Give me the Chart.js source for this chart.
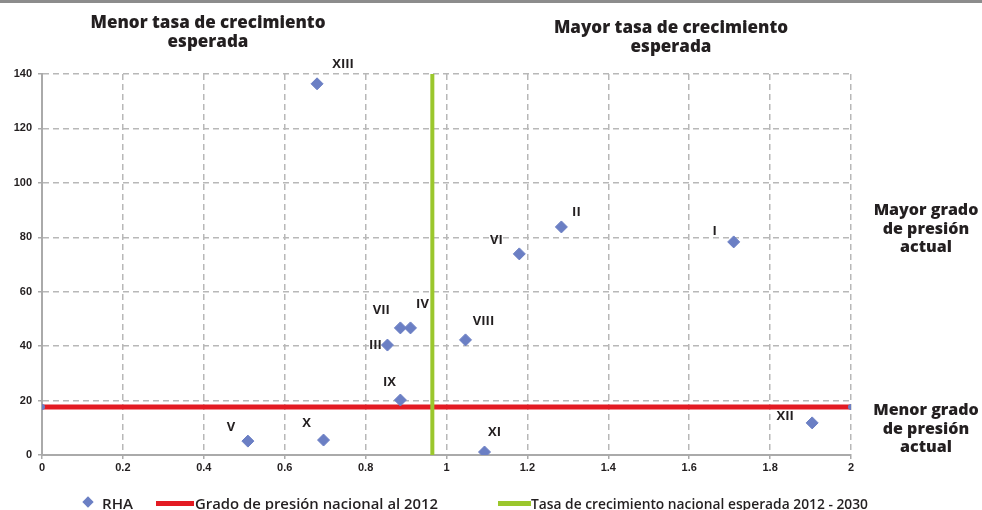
<!DOCTYPE html>
<html>
<head>
<meta charset="utf-8">
<script src="https://cdn.jsdelivr.net/npm/chart.js@4"></script>
<style>
  body{margin:0;width:982px;height:510px;position:relative;background:#fff;overflow:hidden;font-family:"Open Sans",sans-serif;color:#231f20}
  #barra{position:absolute;left:0;top:0;width:982px;height:3px;background:#8c8c8c}
  canvas{position:absolute;left:0;top:0}
  .nota{position:absolute;font-weight:800;text-align:center;white-space:nowrap}
  .sup{font-size:17px;line-height:19px;width:320px}
  .der{font-size:16px;line-height:18.5px;width:130px}
  .ley{position:absolute;top:494px;font-weight:600;font-size:15px;line-height:18px;white-space:nowrap;transform-origin:0 50%}
  .rombo{position:absolute;width:8px;height:8px;background:#6b7fc4;transform:rotate(45deg)}
  .raya{position:absolute;height:5px}
</style>
</head>
<body>
<div id="barra"></div>
<canvas id="grafico" width="982" height="510"></canvas>

<div class="nota sup" style="left:48px;top:12px">Menor tasa de crecimiento<br>esperada</div>
<div class="nota sup" style="left:511px;top:17px">Mayor tasa de crecimiento<br>esperada</div>
<div class="nota der" style="left:861px;top:200px">Mayor grado<br>de presión<br>actual</div>
<div class="nota der" style="left:861px;top:400px">Menor grado<br>de presión<br>actual</div>

<div class="rombo" style="left:84px;top:498px"></div>
<div class="ley" style="left:102px" data-ancho="31">RHA</div>
<div class="raya" style="left:156px;top:501px;width:38px;background:#e31b23"></div>
<div class="ley" style="left:195px" data-ancho="243">Grado de presión nacional al 2012</div>
<div class="raya" style="left:498px;top:501px;width:33px;background:#9bc72d"></div>
<div class="ley" style="left:531px" data-ancho="337">Tasa de crecimiento nacional esperada 2012 - 2030</div>

<script>
const regiones = ['I','II','III','IV','V','VI','VII','VIII','IX','X','XI','XII','XIII'];
const tasaCrecimiento = [1.71, 1.284, 0.854, 0.911, 0.509, 1.18, 0.886, 1.047, 0.886, 0.696, 1.094, 1.904, 0.68];
const gradoPresion = [78.3, 83.8, 40.4, 46.7, 5.1, 73.9, 46.7, 42.3, 20.2, 5.5, 1.1, 11.8, 136.4];
const presionNacional = 17.6;
const crecimientoNacional = 0.965;
const rangoX = [0, 2];
const rangoY = [0, 140];

// el texto de la leyenda es condensado: se ajusta al ancho indicado
document.querySelectorAll('.ley').forEach(el => {
  const w = el.getBoundingClientRect().width;
  el.style.transform = 'scaleX(' + (el.dataset.ancho / w) + ')';
});

// desplazamiento de cada etiqueta respecto a su rombo (px)
const desplazamientos = {
  'I':[-19,-11], 'II':[15,-15], 'III':[-12,0], 'IV':[12,-24], 'V':[-17,-14],
  'VI':[-23,-14], 'VII':[-19,-18], 'VIII':[18,-19], 'IX':[-11,-18], 'X':[-17,-17],
  'XI':[10,-20], 'XII':[-27,-7], 'XIII':[26,-20]
};

const etiquetas = {
  id: 'etiquetas',
  afterDatasetsDraw(chart){
    const ctx = chart.ctx;
    const puntos = chart.getDatasetMeta(0).data;
    ctx.save();
    ctx.font = 'bold 13px "Open Sans", sans-serif';
    ctx.fillStyle = '#231f20';
    ctx.textAlign = 'center';
    ctx.textBaseline = 'middle';
    puntos.forEach((p, i) => {
      const d = desplazamientos[regiones[i]] || [0, -15];
      ctx.fillText(regiones[i], p.x + d[0], p.y + d[1]);
    });
    ctx.restore();
  }
};

const fuenteTicks = {family: '"Liberation Sans", sans-serif', size: 11, weight: 'bold'};

new Chart(document.getElementById('grafico').getContext('2d'), {
  type: 'scatter',
  data: {
    datasets: [
      {
        label: 'RHA',
        data: regiones.map((r, i) => ({x: tasaCrecimiento[i], y: gradoPresion[i]})),
        pointStyle: 'rectRot',
        pointRadius: 6,
        backgroundColor: '#6b7fc4',
        borderColor: '#6b7fc4',
        order: 0
      },
      {
        label: 'Grado de presión nacional al 2012',
        type: 'line',
        data: rangoX.map(x => ({x: x, y: presionNacional})),
        borderColor: '#e31b23',
        borderWidth: 5,
        pointRadius: 3,
        pointBackgroundColor: '#6b7fc4',
        pointBorderWidth: 0,
        order: 2
      },
      {
        label: 'Tasa de crecimiento nacional esperada 2012 - 2030',
        type: 'line',
        data: rangoY.map(y => ({x: crecimientoNacional, y: y})),
        borderColor: '#9bc72d',
        borderWidth: 4,
        pointRadius: 0,
        order: 1
      }
    ]
  },
  options: {
    responsive: false,
    animation: false,
    layout: {padding: {top: 74, right: 131, left: 0, bottom: 0}},
    plugins: {legend: {display: false}, tooltip: {enabled: false}},
    scales: {
      x: {
        type: 'linear', min: rangoX[0], max: rangoX[1],
        ticks: {stepSize: 0.2, color: '#231f20', font: fuenteTicks, padding: 2,
                callback: v => String(+v.toFixed(1))},
        grid: {color: '#b8b8b8', lineWidth: 1.5, tickLength: 4, tickColor: '#aaa'},
        border: {color: '#aaa', width: 2, dash: [6, 4]},
        afterFit: s => { s.height = 55; }
      },
      y: {
        type: 'linear', min: rangoY[0], max: rangoY[1],
        ticks: {stepSize: 20, color: '#231f20', font: fuenteTicks, padding: 6},
        grid: {color: '#b8b8b8', lineWidth: 1.5, tickLength: 4, tickColor: '#aaa'},
        border: {color: '#aaa', width: 2, dash: [6, 4]},
        afterFit: s => { s.width = 42; }
      }
    }
  },
  plugins: [etiquetas]
});
</script>
</body>
</html>
